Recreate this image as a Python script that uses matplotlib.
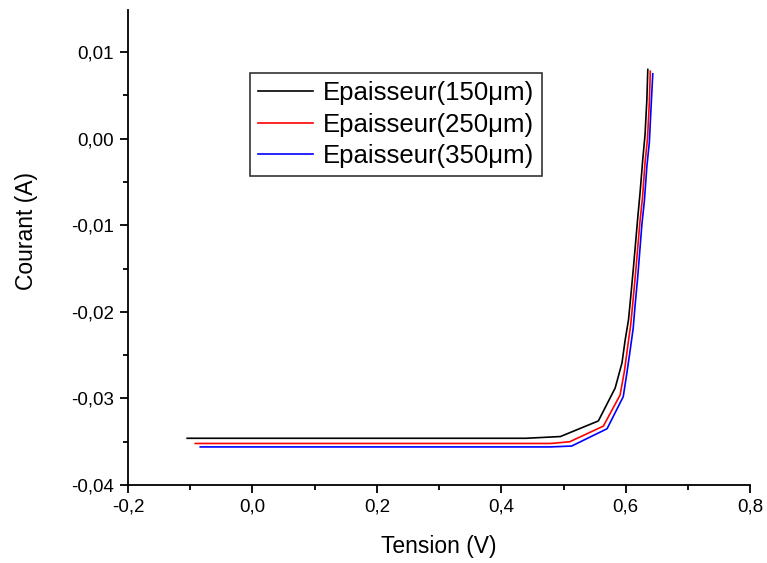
import matplotlib
matplotlib.use("Agg")
import matplotlib.pyplot as plt
from matplotlib.ticker import MultipleLocator, AutoMinorLocator, FuncFormatter

plt.rcParams['font.family'] = ['Liberation Sans', 'DejaVu Sans']

# I-V curves
v_150 = [-0.105, 0.44, 0.495, 0.556, 0.583, 0.594, 0.599, 0.6045, 0.608, 0.6125, 0.6195, 0.623, 0.6275, 0.631, 0.634, 0.6355]
i_150 = [-0.0346, -0.0346, -0.0344, -0.0326, -0.0288, -0.0259, -0.0233, -0.0209, -0.0183, -0.0148, -0.0090, -0.0063, -0.0023, 0.0004, 0.0045, 0.0080]

v_250 = [-0.092, 0.48, 0.51, 0.564, 0.591, 0.598, 0.603, 0.608, 0.6115, 0.616, 0.623, 0.627, 0.631, 0.635, 0.638, 0.6395]
i_250 = [-0.0352, -0.0352, -0.0350, -0.0332, -0.0296, -0.0268, -0.0241, -0.0215, -0.0189, -0.0154, -0.0095, -0.0068, -0.0028, 0.0000, 0.0042, 0.0078]

v_350 = [-0.084, 0.478, 0.513, 0.570, 0.596, 0.602, 0.607, 0.612, 0.615, 0.6195, 0.626, 0.630, 0.634, 0.638, 0.641, 0.6435]
i_350 = [-0.0356, -0.0356, -0.0355, -0.0335, -0.0298, -0.0270, -0.0245, -0.0219, -0.0193, -0.0158, -0.0099, -0.0072, -0.0032, -0.0004, 0.0040, 0.0075]

labels = ["Epaisseur(150\u03bcm)", "Epaisseur(250\u03bcm)", "Epaisseur(350\u03bcm)"]
colors = ["black", "red", "blue"]

fig = plt.figure(figsize=(7.67, 5.63), dpi=100)
ax = fig.add_axes([0.167, 0.1385, 0.811, 0.8435])

for v, i, lab, c in zip([v_150, v_250, v_350], [i_150, i_250, i_350], labels, colors):
    ax.plot(v, i, color=c, lw=1.2, label=lab)

ax.set_xlim(-0.2, 0.8)
ax.set_ylim(-0.04, 0.01485)
ax.xaxis.set_major_locator(MultipleLocator(0.2))
ax.xaxis.set_minor_locator(AutoMinorLocator(2))
ax.yaxis.set_major_locator(MultipleLocator(0.01))
ax.yaxis.set_minor_locator(AutoMinorLocator(2))
ax.xaxis.set_major_formatter(FuncFormatter(lambda x, p: f"{x:.1f}".replace(".", ",").replace("-0,0", "0,0")))
ax.yaxis.set_major_formatter(FuncFormatter(lambda y, p: f"{y:.2f}".replace(".", ",").replace("-0,00", "0,00")))

for s in ["top", "right"]:
    ax.spines[s].set_visible(False)
for s in ["left", "bottom"]:
    ax.spines[s].set_linewidth(1.3)

ax.tick_params(which="major", direction="out", length=6, width=1.3, labelsize=13.5, pad=4)
ax.tick_params(which="minor", direction="out", length=3.5, width=1.3)

ax.set_xlabel("Tension (V)", fontsize=16.5, labelpad=14)
ax.set_ylabel("Courant (A)", fontsize=16.5)
ax.yaxis.set_label_coords(-0.145, 0.535)

leg = ax.legend(loc="upper left", bbox_to_anchor=(0.196, 0.867), fontsize=18.5,
                frameon=True, fancybox=False, handlelength=2.15, handletextpad=0.4,
                borderpad=0.3, labelspacing=0.3, borderaxespad=0)
leg.get_frame().set_edgecolor("black")
leg.get_frame().set_linewidth(1.2)

fig.savefig("out.png", dpi=100)
